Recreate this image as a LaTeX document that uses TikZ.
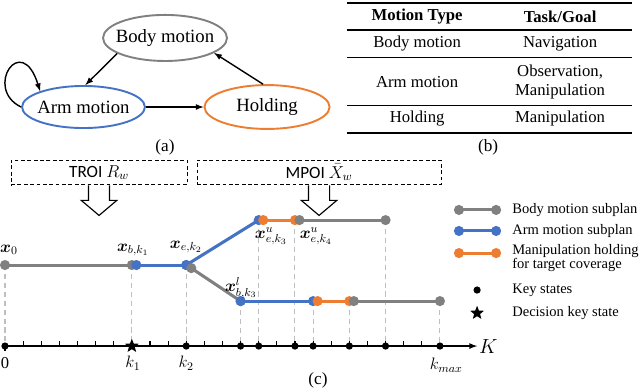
\RequirePackage{fix-cm}
\documentclass[tikz,border=0pt]{standalone}
\usepackage{amsmath,amssymb}
\usepackage{fontspec}
\setmainfont{Liberation Serif}
\newfontfamily\roifont{Carlito}
\usetikzlibrary{shapes,arrows,positioning}

\definecolor{bodygray}{HTML}{808080}
\definecolor{armblue}{HTML}{4472C4}
\definecolor{holdorange}{HTML}{ED7D31}
\definecolor{guidegray}{HTML}{BFBFBF}

% one subplan piece: thick line with a dot at each end
\newcommand{\subplan}[3]{%
  \draw[sub,#1] (#2) -- (#3);
  \fill[#1] (#2) circle (0.28) (#3) circle (0.28);}

\begin{document}
\begin{tikzpicture}[x=0.5cm,y=0.5cm,
    motion/.style={ellipse,draw,line width=1.5pt,inner ysep=0pt,inner xsep=-0.16cm,
        font=\fontsize{14.7}{16}\selectfont},
    trans/.style={-latex,line width=1.1pt},
    cell/.style={align=center,inner sep=0pt,font=\fontsize{13.1}{15}\selectfont},
    subcap/.style={font=\fontsize{13.5}{15}\selectfont},
    sub/.style={line width=2.4pt},
    guide/.style={guidegray,line width=0.8pt,dash pattern=on 4pt off 3pt},
    roi/.style={draw,line width=0.8pt,dash pattern=on 3pt off 2pt,inner sep=0pt,
        minimum height=0.685cm,font=\roifont\fontsize{13.5}{15}\selectfont},
    hollow/.style={line width=0.9pt,fill=white},
    plabel/.style={inner sep=0pt,font=\fontsize{13}{15}\selectfont},
    leg/.style={anchor=west,inner sep=0pt,align=left,
        font=\fontsize{11.4}{11}\selectfont},
  ]
    \useasboundingbox (-0.276,-2.373) rectangle (35.04,19.095);

    % (a) motion types
    \node[motion,draw=bodygray,minimum width=3.42cm,minimum height=1.27cm]
        (body) at (8.83,17.0) {Body motion};
    \node[motion,draw=armblue,minimum width=3.39cm,minimum height=1.16cm]
        (arm) at (4.33,13.19) {Arm motion};
    \node[motion,draw=holdorange,minimum width=3.45cm,minimum height=1.21cm]
        (hold) at (14.46,13.19) {Holding};
    \draw[trans] (body.198) -- (arm.85);
    \draw[trans] (hold.100) -- (body.343);
    \draw[trans] (arm.east) -- (hold.west);
    \draw[trans] (arm.west) .. controls (-1.2,14.2) and (0.9,17.4) .. (arm.160);
    \node[subcap] (capa) at (8.83,10.98) {(a)};

    % (b) table
    \draw[line width=1.3pt] (18.87,18.93) -- (34.60,18.93);
    \draw[line width=1.0pt] (18.87,17.44) -- (34.60,17.44);
    \draw[line width=0.7pt] (18.87,15.95) -- (34.60,15.95);
    \draw[line width=0.7pt] (18.87,13.25) -- (34.60,13.25);
    \draw[line width=1.3pt] (18.87,11.75) -- (34.60,11.75);
    \node[cell,font=\fontsize{13.1}{15}\selectfont\bfseries] (htype) at (22.74,18.16) {Motion Type};
    \node[cell,font=\fontsize{13.1}{15}\selectfont\bfseries] (hgoal) at (30.63,18.16) {Task/Goal};
    \node[cell] (tbody) at (22.74,16.67) {Body motion};
    \node[cell] (gbody) at (30.63,16.67) {Navigation};
    \node[cell] (tarm) at (22.74,14.58) {Arm motion};
    \node[cell] (garm) at (30.63,14.58) {Observation,\\Manipulation};
    \node[cell] (thold) at (22.74,12.53) {Holding};
    \node[cell] (ghold) at (30.63,12.53) {Manipulation};
    \node[subcap] (capb) at (26.66,10.98) {(b)};

    % (c) regions of interest
    \node[roi,minimum width=4.855cm] (troi) at (5.19,9.58) {TROI $R_w$};
    \node[roi,minimum width=6.73cm] (mpoi) at (17.33,9.58) {MPOI $\bar{X}_w$};
    \foreach \r in {troi,mpoi}
        \draw[hollow] ([xshift=-0.29cm]\r.south) -- ++(0,-0.415cm)
            -- ++(-0.2cm,0) -- ++(0.49cm,-0.415cm) -- ++(0.49cm,0.415cm)
            -- ++(-0.2cm,0) -- ++(0,0.415cm);

    % key states of the plan
    \coordinate (x0) at (0,4.47);
    \coordinate (xb1) at (7,4.47);
    \coordinate (xe2) at (10,4.47);
    \coordinate (xe2g) at (10.28,4.3);
    \coordinate (xu3) at (14,6.95);
    \coordinate (xu4) at (16,6.95);
    \coordinate (xu5) at (21,6.95);
    \coordinate (xl3) at (13,2.48);
    \coordinate (xl4) at (17,2.48);
    \coordinate (xl5) at (19,2.48);
    \coordinate (xl6) at (24,2.48);
    \foreach \p in {x0,xb1,xe2,xu3,xu4,xu5,xl3,xl4,xl5,xl6}
        \draw[guide] (\p) -- (\p |- 0,0);

    \subplan{bodygray}{x0}{xb1}
    \subplan{armblue}{[xshift=1.25mm]xb1}{xe2}
    \subplan{armblue}{xe2}{xu3}
    \subplan{holdorange}{[xshift=1.25mm]xu3}{xu4}
    \subplan{bodygray}{[xshift=1.25mm]xu4}{xu5}
    \subplan{bodygray}{xe2g}{xl3}
    \subplan{armblue}{xl3}{xl4}
    \subplan{holdorange}{[xshift=1.25mm]xl4}{xl5}
    \subplan{bodygray}{[xshift=1.25mm]xl5}{xl6}

    \node[plabel] (lx0) at (0.22,5.30) {$\boldsymbol{x}_0$};
    \node[plabel] (lxb1) at (7.06,5.30) {$\boldsymbol{x}_{b,k_1}$};
    \node[plabel] (lxe2) at (9.99,5.46) {$\boldsymbol{x}_{e,k_2}$};
    \node[plabel] (lxu3) at (14.68,6.07) {$\boldsymbol{x}^{u}_{e,k_3}$};
    \node[plabel] (lxu4) at (17.16,6.07) {$\boldsymbol{x}^{u}_{e,k_4}$};
    \node[plabel] (lxl3) at (13.02,3.2) {$\boldsymbol{x}^{l}_{b,k_3}$};

    % time axis
    \foreach \t in {1,...,23}
        \draw[line width=0.9pt] (\t,0) -- (\t,0.3);
    \draw[line width=0.9pt] (0,0) -- (0,-0.3);
    \draw[line width=1.1pt,-latex] (0,0) -- (26.05,0)
        node[right=1pt,inner sep=0pt,font=\fontsize{16}{18}\selectfont] (kax) {$K$};
    \foreach \t in {0,10,13,14,16,17,19,21,24}
        \fill (\t,0) circle (0.2);
    \node[star,star points=5,star point ratio=2.3,fill,inner sep=0pt,
        minimum size=0.4cm] (kstar) at (7,0) {};
    \node[plabel] (k0) at (0,-0.94) {0};
    \node[plabel] (k1) at (7.06,-0.94) {$k_1$};
    \node[plabel] (k2) at (10,-0.94) {$k_2$};
    \node[plabel] (kmax) at (24.35,-1.05) {$k_{max}$};
    \node[subcap] (capc) at (17.27,-1.88) {(c)};

    % legend
    \subplan{bodygray}{25.05,7.51}{27.1,7.51}
    \subplan{armblue}{25.05,6.35}{27.1,6.35}
    \subplan{holdorange}{25.05,5.13}{27.1,5.13}
    \node[leg] (lbody) at (27.98,7.51) {Body motion subplan};
    \node[leg] (larm) at (27.98,6.35) {Arm motion subplan};
    \node[leg,anchor=north west] (lhold) at (27.98,5.6)
        {Manipulation holding\\for target coverage};
    \fill (26.05,3.09) circle (0.2);
    \node[star,star points=5,star point ratio=2.3,fill,inner sep=0pt,
        minimum size=0.4cm] (lstar) at (26.05,1.82) {};
    \node[leg] (lkey) at (27.98,3.09) {Key states};
    \node[leg] (ldec) at (27.98,1.82) {Decision key state};
\end{tikzpicture}
\end{document}
